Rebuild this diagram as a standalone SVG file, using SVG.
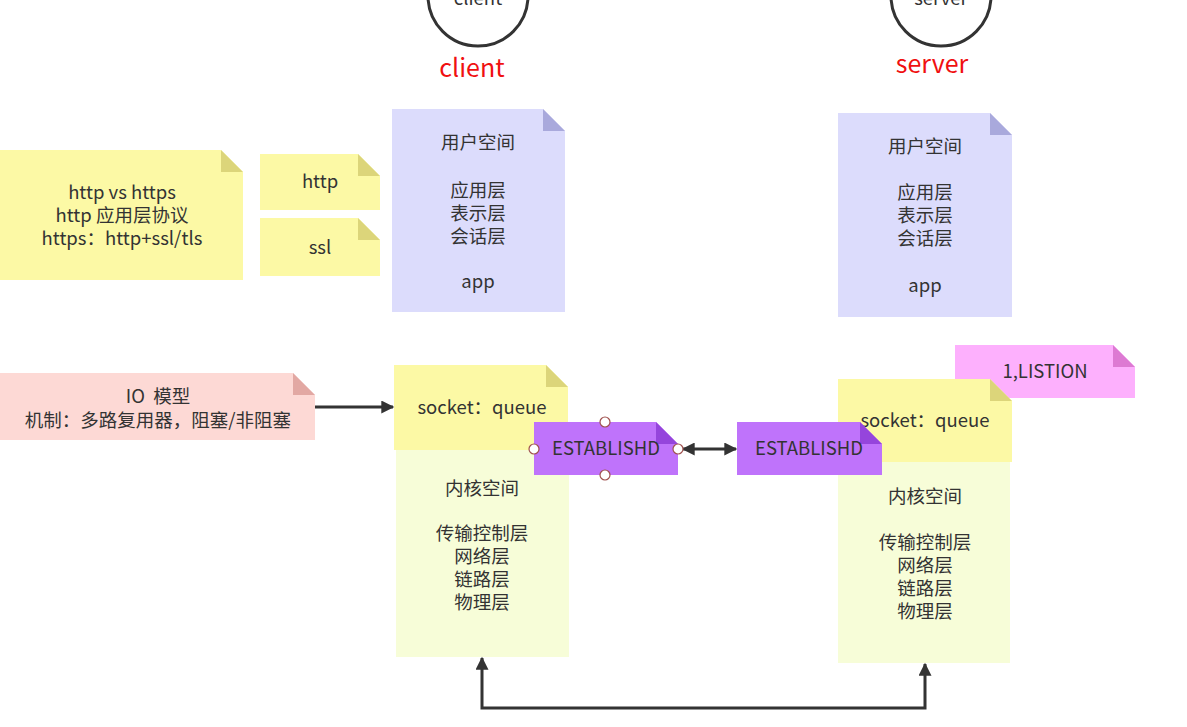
<svg xmlns="http://www.w3.org/2000/svg" width="1187" height="727" viewBox="0 0 1187 727">
<style>
text{font-family:"Noto Sans CJK SC","Noto Sans",sans-serif;fill:#333;text-anchor:middle;font-size:18.5px}
.red{fill:#f01010;font-size:25px}
.conn{stroke:#333;stroke-width:3;fill:none}
.h{fill:#fff;stroke:#a0524f;stroke-width:1.2}
</style>
<defs>
<marker id="ah" viewBox="0 0 10 10" refX="9" refY="5" markerWidth="15" markerHeight="13" markerUnits="userSpaceOnUse" orient="auto-start-reverse">
<path d="M0,0 L10,5 L0,10 Z" fill="#333"/>
</marker>
</defs>
<rect width="1187" height="727" fill="#fff"/>

<g id="client-circle">
<circle cx="478" cy="-4" r="50" fill="#fff" stroke="#333" stroke-width="3"/>
<text x="478" y="5" font-size="20">client</text>
<text class="red" x="472" y="77">client</text>
</g>
<g id="server-circle">
<circle cx="941" cy="-4" r="50" fill="#fff" stroke="#333" stroke-width="3"/>
<text x="941" y="5" font-size="20">server</text>
<text class="red" x="932" y="73">server</text>
</g>

<g id="http-vs-https">
<path d="M0,150 H221 L243,172 V280 H0 Z" fill="#fcf9a5"/>
<path d="M221,150 L243,172 H221 Z" fill="#dcd57a"/>
<text x="122" y="199">http vs https</text>
<text x="122" y="222">http 应用层协议</text>
<text x="122" y="245">https：http+ssl/tls</text>
</g>
<g id="http">
<path d="M260,154 H358 L380,176 V210 H260 Z" fill="#fcf9a5"/>
<path d="M358,154 L380,176 H358 Z" fill="#dcd57a"/>
<text x="320" y="188">http</text>
</g>
<g id="ssl">
<path d="M260,218 H358 L380,240 V276 H260 Z" fill="#fcf9a5"/>
<path d="M358,218 L380,240 H358 Z" fill="#dcd57a"/>
<text x="320" y="254">ssl</text>
</g>

<g id="client-user">
<path d="M392,109 H543 L565,131 V312 H392 Z" fill="#dcdcfc"/>
<path d="M543,109 L565,131 H543 Z" fill="#a9a9dc"/>
<text x="478" y="149">用户空间</text>
<text x="478" y="197">应用层</text>
<text x="478" y="220">表示层</text>
<text x="478" y="243">会话层</text>
<text x="478" y="288">app</text>
</g>
<g id="server-user">
<path d="M838,113 H990 L1012,135 V317 H838 Z" fill="#dcdcfc"/>
<path d="M990,113 L1012,135 H990 Z" fill="#a9a9dc"/>
<text x="925" y="153">用户空间</text>
<text x="925" y="199">应用层</text>
<text x="925" y="222">表示层</text>
<text x="925" y="245">会话层</text>
<text x="925" y="292">app</text>
</g>

<g id="io-model">
<path d="M0,373 H293 L315,395 V440 H0 Z" fill="#fdd9d5"/>
<path d="M293,373 L315,395 H293 Z" fill="#e2a8a3"/>
<text x="158" y="403" style="white-space:pre">IO  模型</text>
<text x="158" y="427">机制：多路复用器，阻塞/非阻塞</text>
</g>

<g id="client-kernel">
<rect x="396" y="450" width="173" height="207" fill="#f7fdd8"/>
<text x="482" y="495">内核空间</text>
<text x="482" y="540">传输控制层</text>
<text x="482" y="563">网络层</text>
<text x="482" y="586">链路层</text>
<text x="482" y="609">物理层</text>
</g>
<g id="client-socket">
<path d="M394,365 H546 L568,387 V450 H394 Z" fill="#fcf9a5"/>
<path d="M546,365 L568,387 H546 Z" fill="#dcd57a"/>
<text x="482" y="414">socket：queue</text>
</g>

<g id="listion">
<path d="M955,345 H1113 L1135,367 V398 H955 Z" fill="#fdb0fd"/>
<path d="M1113,345 L1135,367 H1113 Z" fill="#dd7ad3"/>
<text x="1045" y="378">1,LISTION</text>
</g>
<g id="server-kernel">
<rect x="838" y="462" width="172" height="201" fill="#f7fdd8"/>
<text x="925" y="503">内核空间</text>
<text x="925" y="549">传输控制层</text>
<text x="925" y="572">网络层</text>
<text x="925" y="595">链路层</text>
<text x="925" y="618">物理层</text>
</g>
<g id="server-socket">
<path d="M838,379 H990 L1012,401 V462 H838 Z" fill="#fcf9a5"/>
<path d="M990,379 L1012,401 H990 Z" fill="#dcd57a"/>
<text x="925" y="427">socket：queue</text>
</g>

<g id="est-client">
<path d="M534,422 H656 L678,444 V475 H534 Z" fill="#bf73fb"/>
<path d="M656,422 L678,444 H656 Z" fill="#9545dc"/>
<text x="606" y="455">ESTABLISHD</text>
</g>
<g id="est-server">
<path d="M737,422 H860 L882,444 V475 H737 Z" fill="#bf73fb"/>
<path d="M860,422 L882,444 H860 Z" fill="#9545dc"/>
<text x="809" y="455">ESTABLISHD</text>
</g>

<g id="connectors">
<line class="conn" x1="315" y1="407" x2="393" y2="407" stroke-width="2.5" marker-end="url(#ah)"/>
<line class="conn" x1="683" y1="449" x2="736" y2="449" stroke-width="2.5" marker-start="url(#ah)" marker-end="url(#ah)"/>
<path class="conn" d="M482,658 V708 H925 V664" marker-start="url(#ah)" marker-end="url(#ah)"/>
</g>

<g id="selection-handles">
<circle class="h" cx="605" cy="422" r="5"/>
<circle class="h" cx="534" cy="449" r="5"/>
<circle class="h" cx="678" cy="449" r="5"/>
<circle class="h" cx="605" cy="475" r="5"/>
</g>
</svg>
